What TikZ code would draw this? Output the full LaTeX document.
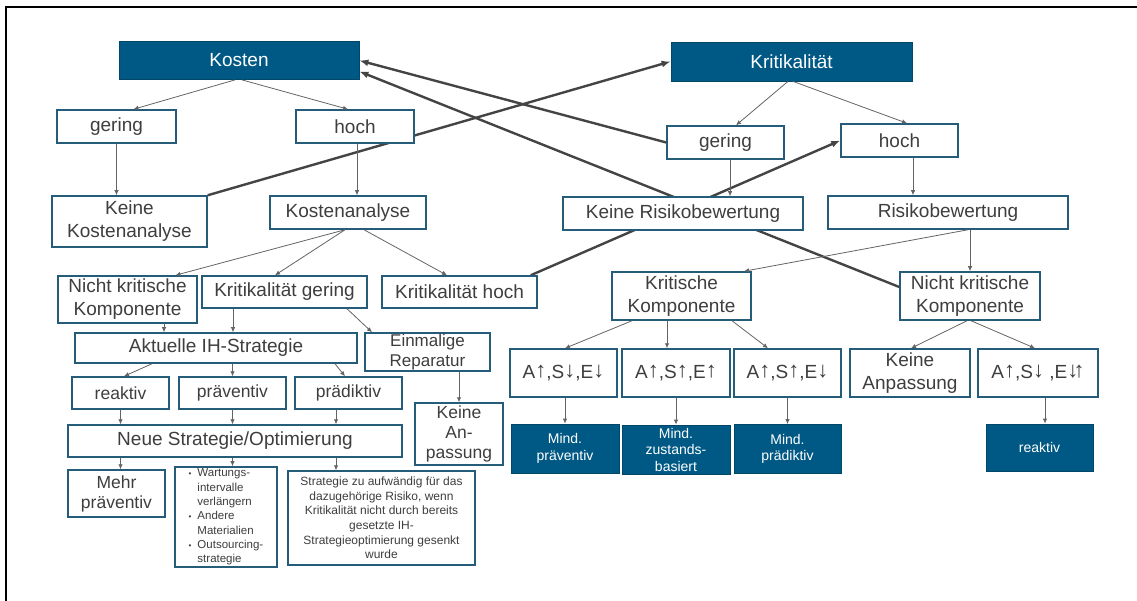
\documentclass[tikz,border=0pt]{standalone}
\usepackage{fontspec}
\setmainfont{Liberation Sans}
\usetikzlibrary{arrows.meta, backgrounds}

\definecolor{ihblue}{RGB}{0,89,133}
\definecolor{ihframe}{RGB}{36,92,122}
\definecolor{ihtext}{RGB}{62,62,62}
\definecolor{ihline}{RGB}{100,100,100}
\definecolor{ihlink}{RGB}{68,68,68}

% kleine Pfeile fuer A, S, E
\newcommand{\aup}{\raisebox{1.5pt}{\fontsize{22}{22}\selectfont↑}}
\newcommand{\adn}{\raisebox{1.5pt}{\fontsize{22}{22}\selectfont↓}}

\begin{document}
\begin{tikzpicture}[x=1pt, y=-1pt,
  box/.style={draw=ihframe, line width=1.5pt, fill=white, text=ihtext, align=center, inner sep=0pt, font=\fontsize{19}{23}\selectfont},
  dbox/.style={draw=ihblue!80!black, line width=0.8pt, fill=ihblue, text=white, align=center, inner sep=0pt, font=\fontsize{14}{16.5}\selectfont},
  wh/.style 2 args={minimum width=#1pt, minimum height=#2pt},
  midtxt/.style={font=\fontsize{17.5}{20}\selectfont},
  smalltxt/.style={font=\fontsize{12}{14.6}\selectfont},
  arr/.style={draw=ihline, line width=0.8pt, -{Latex[length=5pt,width=4.5pt]}},
  link/.style={draw=ihlink, line width=2.4pt, -{Latex[length=9pt,width=7pt]}}]
  %tikz  IH-Strategie, Kosten und Kritikalitaet
  \useasboundingbox (0,0) rectangle (1137,601);
  \draw[line width=2.5pt] (6,601) -- (6,7) -- (1137,7);

  % Kosten-Zweig
  \node[dbox, wh={240}{38}, font=\fontsize{19}{23}\selectfont] (kosten) at (239,60.5) {Kosten};
  \node[box, wh={119}{33}] (gerL) at (116.5,126.5) {gering};
  \node[box, wh={118}{33}] (hochL) at (355,126.5) {hoch};
  \node[box, wh={155}{51}] (keinKA) at (129.5,221.5) {Keine\\Kostenanalyse};
  \node[box, wh={156}{33}] (kana) at (348,212.5) {Kostenanalyse};
  \node[box, wh={139}{47}] (nkL) at (127.5,299.5) {Nicht kritische\\Komponente};
  \node[box, wh={165}{32}] (kgL) at (284.5,292) {Kritikalität gering};
  \node[box, wh={155}{32}] (khL) at (459.5,292) {Kritikalität hoch};
  \node[box, wh={125}{38}, font=\fontsize{17}{20}\selectfont] (einm) at (427.5,352) {Einmalige\\Reparatur};
  \node[box, wh={282}{30}] (akt) at (216,348) {Aktuelle IH-Strategie};
  \node[box, midtxt, wh={97}{32}] (reakL) at (120.5,393) {reaktiv};
  \node[box, midtxt, wh={107}{32}] (praevL) at (232.5,393) {präventiv};
  \node[box, midtxt, wh={107}{32}] (praedL) at (348.5,393) {prädiktiv};
  \node[box, midtxt, wh={88}{62}] (keinAnL) at (459,434) {Keine\\An-\\passung};
  \node[box, wh={334}{32}] (neue) at (235,441) {Neue Strategie/Optimierung};
  \node[box, midtxt, wh={97}{47}] (mehr) at (116.5,493.5) {Mehr\\präventiv};
  \node[box, wh={102}{96}, font=\fontsize{11.5}{14.3}\selectfont] (bullets) at (226,517) {%
    \begin{tabular}{@{}l@{\hspace{6pt}}l@{}}
      {\fontsize{8}{8}\selectfont\textbullet} & Wartungs-\\
       & intervalle\\
       & verlängern\\
      {\fontsize{8}{8}\selectfont\textbullet} & Andere\\
       & Materialien\\
      {\fontsize{8}{8}\selectfont\textbullet} & Outsourcing-\\
       & strategie
    \end{tabular}};
  \node[box, smalltxt, wh={187}{94}] (strat) at (381.5,518) {Strategie zu aufwändig für das\\dazugehörige Risiko, wenn\\Kritikalität nicht durch bereits\\gesetzte IH-\\Strategieoptimierung gesenkt\\wurde};

  % Kritikalitaets-Zweig
  \node[dbox, wh={241}{39}, font=\fontsize{19}{23}\selectfont] (kritik) at (791.5,61.5) {Kritikalität};
  \node[box, wh={117}{33}] (gerR) at (725.5,142.5) {gering};
  \node[box, wh={117}{33}] (hochR) at (899.5,140.5) {hoch};
  \node[box, wh={240}{33}] (keinRB) at (683,213.5) {Keine Risikobewertung};
  \node[box, wh={240}{33}] (rb) at (948,212.5) {Risikobewertung};
  \node[box, wh={139}{48}] (kritK) at (681.5,296) {Kritische\\Komponente};
  \node[box, wh={140}{48}] (nkR) at (970,296) {Nicht kritische\\Komponente};
  \node[box, wh={107}{48}] (a1) at (563.5,373) {A\aup,S\adn,E\adn};
  \node[box, wh={108}{48}] (a2) at (676,373) {A\aup,S\aup,E\aup};
  \node[box, wh={107}{48}] (a3) at (787.5,373) {A\aup,S\aup,E\adn};
  \node[box, wh={120}{48}] (keinAnR) at (910,373) {Keine\\Anpassung};
  \node[box, wh={120}{48}] (a5) at (1038,373) {A\aup,S\adn\ ,E\adn\kern-0.25em\aup};
  \node[dbox, wh={108}{49}] (m1) at (565,448.5) {Mind.\\präventiv};
  \node[dbox, wh={108}{49}] (m2) at (676,449.5) {Mind.\\zustands-\\basiert};
  \node[dbox, wh={107}{49}] (m3) at (787.5,449) {Mind.\\prädiktiv};
  \node[dbox, wh={107}{47}] (m4) at (1039.5,447.5) {reaktiv};

  % duenne Pfeile
  \draw[arr] ([xshift=-4pt]kosten.south) -- ([xshift=17pt]gerL.north);
  \draw[arr] ([xshift=3pt]kosten.south) -- ([xshift=-7pt]hochL.north);
  \draw[arr] (gerL.south) -- (gerL.south |- keinKA.north);
  \draw[arr] ([xshift=2pt]hochL.south) -- ([xshift=2pt]hochL.south |- kana.north);
  \draw[arr] ([xshift=-3pt]kana.south) -- ([xshift=48pt]nkL.north);
  \draw[arr] ([xshift=-3pt]kana.south) -- ([xshift=-9.5pt]kgL.north);
  \draw[arr] ([xshift=16pt]kana.south) -- ([xshift=-12.5pt]khL.north);
  \draw[arr] ([xshift=36.5pt]nkL.south) -- ([xshift=36.5pt]nkL.south |- akt.north);
  \draw[arr] ([xshift=-51.5pt]kgL.south) -- ([xshift=-51.5pt]kgL.south |- akt.north);
  \draw[arr] ([xshift=62.5pt]kgL.south) -- ([xshift=-55.5pt]einm.north);
  \draw[arr] ([xshift=-64pt]akt.south) -- ([xshift=3.5pt]reakL.north);
  \draw[arr] (praevL.north |- akt.south) -- (praevL.north);
  \draw[arr] ([xshift=119pt]akt.south) -- ([xshift=-3.5pt]praedL.north);
  \draw[arr] (reakL.south) -- (reakL.south |- neue.north);
  \draw[arr] (praevL.south) -- (praevL.south |- neue.north);
  \draw[arr] ([xshift=-12.5pt]praedL.south) -- ([xshift=-12.5pt]praedL.south |- neue.north);
  \draw[arr] (reakL.south |- neue.south) -- (reakL.south |- mehr.north);
  \draw[arr] (praevL.south |- neue.south) -- (praevL.south |- bullets.north);
  \draw[arr] ([xshift=-12.5pt]praedL.south |- neue.south) -- ([xshift=-12.5pt]praedL.south |- strat.north);
  \draw[arr] (keinAnL.north |- einm.south) -- (keinAnL.north);

  \draw[arr] ([xshift=-3.5pt]kritik.south) -- ([xshift=10.5pt]gerR.north);
  \draw[arr] ([xshift=1.5pt]kritik.south) -- ([xshift=7.5pt]hochR.north);
  \draw[arr] ([xshift=4.5pt]gerR.south) -- ([xshift=4.5pt]gerR.south |- keinRB.north);
  \draw[arr] ([xshift=13.5pt]hochR.south) -- ([xshift=13.5pt]hochR.south |- rb.north);
  \draw[arr] ([xshift=20pt]rb.south) -- ([xshift=62.5pt]kritK.north);
  \draw[arr] (nkR.north |- rb.south) -- (nkR.north);
  \draw[arr] ([xshift=-49.5pt]kritK.south) -- ([xshift=1.5pt]a1.north);
  \draw[arr] ([xshift=-14.5pt]kritK.south) -- ([xshift=-14.5pt]kritK.south |- a2.north);
  \draw[arr] ([xshift=50.5pt]kritK.south) -- ([xshift=-19.5pt]a3.north);
  \draw[arr] ([xshift=-3pt]nkR.south) -- ([xshift=1pt]keinAnR.north);
  \draw[arr] ([xshift=1pt]nkR.south) -- ([xshift=-3pt]a5.north);
  \draw[arr] ([xshift=1.5pt]a1.south) -- ([xshift=1.5pt]a1.south |- m1.north);
  \draw[arr] (a2.south) -- (a2.south |- m2.north);
  \draw[arr] (a3.south) -- (a3.south |- m3.north);
  \draw[arr] ([xshift=7pt]a5.south) -- ([xshift=7pt]a5.south |- m4.north);

  % dicke Querverbindungen hinter den Kaesten
  \begin{scope}[on background layer]
    \draw[link] (keinKA.north east) -- (kritik.west);
    \draw[link] (gerR.west) -- (kosten.east);
    \draw[link] ([yshift=9pt]nkR.west) -- ([yshift=-11pt]kosten.east);
    \draw[link] ([xshift=-7pt]khL.north east) -- (hochR.west);
  \end{scope}
\end{tikzpicture}
\end{document}
